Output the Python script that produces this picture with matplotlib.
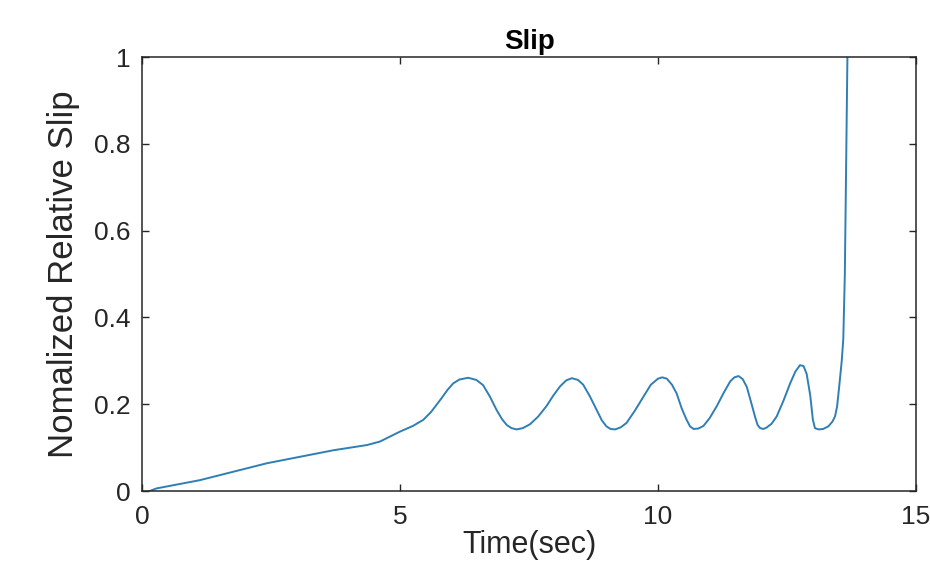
import numpy as np
import matplotlib
matplotlib.use("Agg")
import matplotlib.pyplot as plt

plt.rcParams['font.family'] = ['Liberation Sans', 'DejaVu Sans']

# values
time_s = [0.15, 0.28, 1.12, 2.42, 3.71, 4.36, 4.61, 5.0, 5.25, 5.45, 5.6,
          5.78, 5.92, 6.03, 6.15, 6.32, 6.48, 6.61, 6.74, 6.87, 6.98,
          7.07, 7.16, 7.26, 7.38, 7.52, 7.68, 7.84, 7.97, 8.10, 8.22,
          8.33, 8.45, 8.55, 8.68, 8.81, 8.91, 9.0, 9.08, 9.17, 9.28,
          9.39, 9.55, 9.72, 9.86, 10.0, 10.08, 10.17, 10.27, 10.36, 10.46,
          10.55, 10.62, 10.69, 10.78, 10.88, 11.0, 11.14, 11.28, 11.40, 11.48,
          11.56, 11.64, 11.72, 11.80, 11.88, 11.93, 11.98, 12.04, 12.1, 12.2,
          12.30, 12.43, 12.56, 12.66, 12.75, 12.82, 12.88, 12.95, 13.0, 13.04,
          13.11, 13.20, 13.30, 13.38, 13.43, 13.47, 13.51, 13.56, 13.59, 13.62,
          13.64, 13.66, 13.67, 13.70]
slip = [0.0, 0.006, 0.025, 0.064, 0.094, 0.106, 0.114, 0.137, 0.15, 0.164, 0.182,
        0.21, 0.233, 0.248, 0.257, 0.261, 0.256, 0.244, 0.218, 0.187, 0.165,
        0.152, 0.145, 0.142, 0.145, 0.154, 0.172, 0.196, 0.22, 0.241, 0.255,
        0.26, 0.256, 0.245, 0.218, 0.187, 0.163, 0.149, 0.143, 0.142, 0.147,
        0.157, 0.185, 0.218, 0.245, 0.259, 0.262, 0.259, 0.245, 0.225, 0.19,
        0.165, 0.149, 0.143, 0.144, 0.15, 0.168, 0.196, 0.228, 0.253, 0.262,
        0.265, 0.258, 0.24, 0.206, 0.171, 0.152, 0.145, 0.143, 0.146, 0.155,
        0.172, 0.208, 0.248, 0.275, 0.29, 0.288, 0.27, 0.22, 0.165, 0.145,
        0.142, 0.143, 0.149, 0.16, 0.172, 0.195, 0.24, 0.30, 0.35, 0.5,
        0.7, 0.9, 1.0, 1.05]

xticks = [0, 5, 10, 15]
yticks = [0, 0.2, 0.4, 0.6, 0.8, 1]
ytick_labels = ['0', '0.2', '0.4', '0.6', '0.8', '1']

fig = plt.figure(figsize=(9.3, 5.77), dpi=100)
ax = fig.add_axes([0.1527, 0.149, 0.8323, 0.752])
ax.plot(time_s, slip, color='#2f7fb5', linewidth=1.4, solid_joinstyle='round')

ax.set_xlim(0, 15)
ax.set_ylim(0, 1)
ax.set_xticks(xticks)
ax.set_yticks(yticks)
ax.set_yticklabels(ytick_labels)
ax.tick_params(direction='in', length=5, width=1, colors='#262626',
               labelsize=19, top=True, right=True,
               labeltop=False, labelright=False)
ax.tick_params(axis='x', pad=10)
ax.tick_params(axis='y', pad=8)
for sp in ax.spines.values():
    sp.set_color('#262626')
    sp.set_linewidth(1.1)

ax.set_title('Slip', fontsize=20, fontweight='bold', pad=6)
ax.set_xlabel('Time(sec)', fontsize=22, color='#262626', labelpad=1)
ax.set_ylabel('Nomalized Relative Slip', fontsize=25, color='#262626', labelpad=10)

fig.savefig('out.png', dpi=100)
